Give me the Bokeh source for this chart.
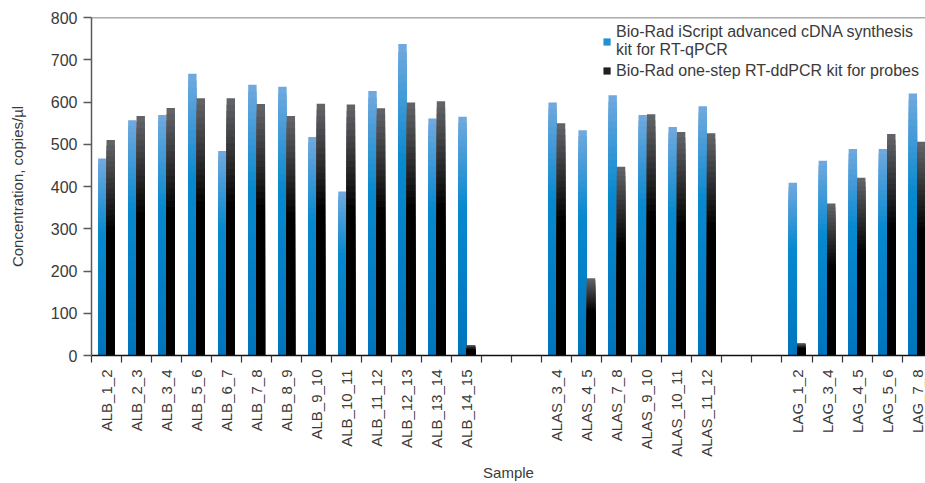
import math
import numpy as np
from bokeh.plotting import figure
from bokeh.models import (Range1d, FixedTicker, LinearAxis, ColumnDataSource,
                          Legend, LegendItem, Span)
from bokeh.embed import file_html
from bokeh.resources import INLINE

# ---------------- data ----------------
alb_samples = ["ALB_1_2", "ALB_2_3", "ALB_3_4", "ALB_5_6", "ALB_6_7", "ALB_7_8",
               "ALB_8_9", "ALB_9_10", "ALB_10_11", "ALB_11_12", "ALB_12_13",
               "ALB_13_14", "ALB_14_15"]
alb_iscript = [466, 557, 569, 667, 484, 641, 636, 517, 388, 626, 737, 561, 565]
alb_onestep = [510, 567, 586, 609, 609, 595, 567, 596, 594, 585, 599, 602, 25]

alas_samples = ["ALAS_3_4", "ALAS_4_5", "ALAS_7_8", "ALAS_9_10", "ALAS_10_11", "ALAS_11_12"]
alas_iscript = [599, 533, 616, 569, 541, 590]
alas_onestep = [550, 183, 447, 571, 529, 526]

lag_samples = ["LAG_1_2", "LAG_3_4", "LAG_4_5", "LAG_5_6", "LAG_7_8"]
lag_iscript = [409, 461, 489, 489, 620]
lag_onestep = [29, 360, 421, 524, 506]

y_ticks = [0, 100, 200, 300, 400, 500, 600, 700, 800]

series_names = ["Bio-Rad iScript advanced cDNA synthesis\nkit for RT-qPCR",
                "Bio-Rad one-step RT-ddPCR kit for probes"]

# ---------------- layout of slots ----------------
GAP = 2
groups = [(alb_samples, alb_iscript, alb_onestep),
          (alas_samples, alas_iscript, alas_onestep),
          (lag_samples, lag_iscript, lag_onestep)]
names, xs, v_is, v_os = [], [], [], []
pos = 0
for gi, (s, a, b) in enumerate(groups):
    if gi:
        pos += GAP
    for n, va, vb in zip(s, a, b):
        names.append(n); xs.append(pos); v_is.append(va); v_os.append(vb)
        pos += 1
n_slots = pos
xs = np.array(xs, dtype=float)

FONT = "Liberation Sans"
TXT = "#3a3a3a"

p = figure(width=925, height=483,
           x_range=Range1d(-0.5, n_slots - 0.72), y_range=Range1d(0, 800),
           output_backend="svg", toolbar_location=None,
           x_axis_location=None, y_axis_location=None,
           min_border_left=91, min_border_top=17, min_border_right=0, min_border_bottom=0)
p.outline_line_color = None
p.xgrid.visible = False
p.ygrid.visible = False
p.background_fill_color = "white"
p.border_fill_color = "white"

# ---------------- bars with vertical gradient (overlapping bands) ----------------
def hex2rgb(h):
    h = h.lstrip("#")
    return np.array([int(h[i:i + 2], 16) for i in (0, 2, 4)], dtype=float)

def interp(stops, f):
    for (f0, c0), (f1, c1) in zip(stops[:-1], stops[1:]):
        if f0 <= f <= f1:
            t = (f - f0) / (f1 - f0) if f1 > f0 else 0
            c = hex2rgb(c0) * (1 - t) + hex2rgb(c1) * t
            return "#%02x%02x%02x" % tuple(int(round(v)) for v in c)
    return stops[-1][1]

blue_stops = [(0.0, "#0075be"), (0.62, "#0789cf"), (1.0, "#71a9de")]
black_stops = [(0.0, "#000000"), (0.58, "#000000"), (1.0, "#65666a")]

W = 0.28
NB = 40
legend_renderers = []
for vals, off, stops in [(v_is, -0.14, blue_stops), (v_os, 0.14, black_stops)]:
    vals = np.array(vals, dtype=float)
    mid_r = None
    for k in reversed(range(NB)):
        f1 = (k + 1) / NB
        col = interp(stops, (k + 0.5) / NB)
        src = ColumnDataSource(dict(x=xs + off, top=vals * f1))
        r = p.vbar(x="x", bottom=0, top="top", width=W, source=src,
                   fill_color=col, line_color=None)
        if k == int(NB * 0.72):
            mid_r = r
    legend_renderers.append(mid_r)

# ---------------- axes ----------------
yax = LinearAxis(ticker=FixedTicker(ticks=y_ticks))
yax.axis_label = "Concentration, copies/µl"
yax.axis_line_color = "#5a5a5a"
yax.axis_line_width = 1.5
yax.major_tick_out = 8
yax.major_tick_in = 0
yax.major_tick_line_color = "#5a5a5a"
yax.major_tick_line_width = 1.5
yax.minor_tick_line_color = None
yax.major_label_standoff = 6
yax.major_label_text_font = FONT
yax.major_label_text_font_size = "16px"
yax.major_label_text_color = TXT
yax.axis_label_text_font = FONT
yax.axis_label_text_font_size = "15px"
yax.axis_label_text_font_style = "normal"
yax.axis_label_text_color = TXT
yax.axis_label_standoff = 22
p.add_layout(yax, "left")

bounds = [x - 0.5 for x in range(0, n_slots + 1)]
xax = LinearAxis(ticker=FixedTicker(ticks=list(xs), minor_ticks=bounds))
xax.major_label_overrides = {int(x): n for x, n in zip(xs, names)}
xax.major_label_orientation = math.pi / 2
xax.axis_label = "Sample"
xax.axis_line_color = "#111111"
xax.axis_line_width = 1.5
xax.major_tick_out = 0
xax.major_tick_in = 0
xax.major_tick_line_color = None
xax.minor_tick_out = 7
xax.minor_tick_in = 0
xax.minor_tick_line_color = "#333333"
xax.minor_tick_line_width = 1.2
xax.major_label_standoff = 7
xax.major_label_text_font = FONT
xax.major_label_text_font_size = "15px"
xax.major_label_text_color = TXT
xax.axis_label_text_font = FONT
xax.axis_label_text_font_size = "15px"
xax.axis_label_text_font_style = "normal"
xax.axis_label_text_color = TXT
xax.axis_label_standoff = 4
p.add_layout(xax, "below")

p.add_layout(Span(location=800, dimension="width", line_color="#5a5a5a", line_width=1.5))

# ---------------- legend ----------------
legend = Legend(items=[LegendItem(label=series_names[0], renderers=[legend_renderers[0]]),
                       LegendItem(label=series_names[1], renderers=[legend_renderers[1]])],
                location="top_right")
legend.border_line_color = None
legend.background_fill_alpha = 0
legend.label_text_font = FONT
legend.label_text_font_size = "16px"
legend.label_text_color = TXT
legend.glyph_width = 9
legend.glyph_height = 9
legend.label_standoff = 5
legend.spacing = 2
legend.padding = 0
legend.margin = 6
legend.label_height = 19
p.add_layout(legend)

open("out.html", "w").write(file_html(p, INLINE))
